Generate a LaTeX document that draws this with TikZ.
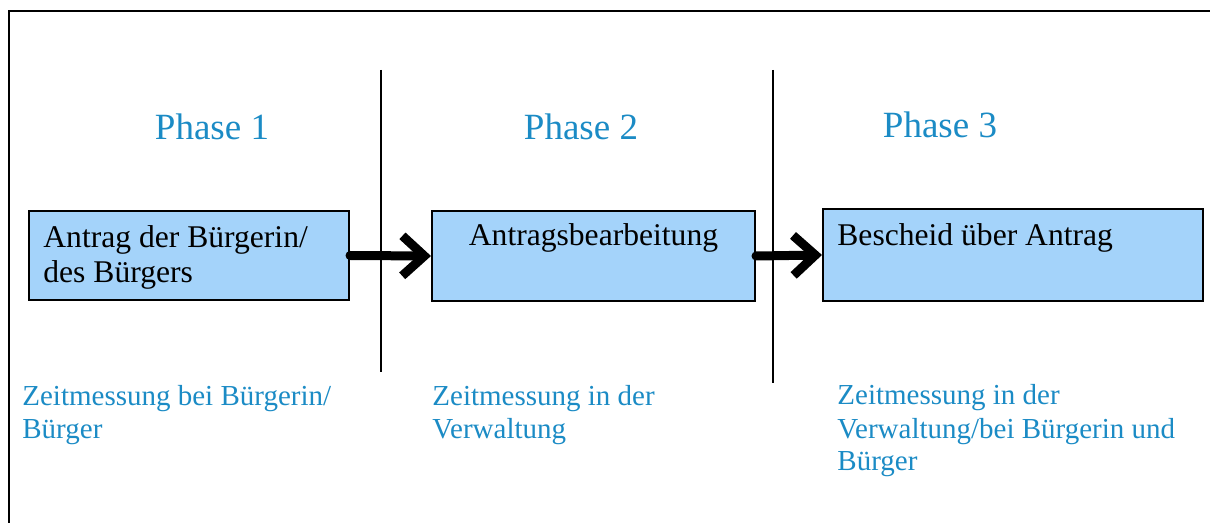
\documentclass[tikz,border=0pt]{standalone}
\usepackage{fontspec}
\setmainfont{Liberation Serif}
\usetikzlibrary{positioning, arrows.meta, calc}
\definecolor{phasec}{HTML}{1B8BC5}
\definecolor{boxc}{HTML}{A4D3FA}

\begin{document}
\begin{tikzpicture}[
  x=0.5pt, y=-0.5pt,
  box/.style={draw=black, line width=1pt, fill=boxc, anchor=north west, inner sep=0pt},
  boxtext/.style={font=\fontsize{15.8}{17.5}\selectfont, align=left, inner sep=0pt, anchor=base west},
  phase/.style={font=\fontsize{18.5}{22}\selectfont, text=phasec, inner sep=0pt, anchor=base},
  note/.style={font=\fontsize{14.5}{16.5}\selectfont, text=phasec, align=left, inner sep=0pt, anchor=base west},
  sep/.style={line width=1pt},
  flow/.style={-{Straight Barb[length=11pt, width=20pt]}, line width=4.5pt, line cap=round},
]
\useasboundingbox (0,0) rectangle (1210,523);

% ---------------- frame (runs off to the right and bottom) ----------------
\draw[line width=1pt] (1212,11) -- (9,11) -- (9,525);

% ---------------- phase separators ----------------
\draw[sep] (381,70) -- (381,372);
\draw[sep] (773,70) -- (773,383);

% ---------------- phase titles ----------------
\node[phase] (ph1) at (212,140) {Phase 1};
\node[phase] (ph2) at (581,140) {Phase 2};
\node[phase] (ph3) at (940,138) {Phase 3};

% ---------------- process boxes ----------------
% multi-line texts sit on the baseline of their last line
\node[box, minimum width=160pt, minimum height=44.5pt] (antrag) at (28,210) {};
\node[boxtext] (antragtxt) at ($(antrag.north west)+(15,73)$) {Antrag der Bürgerin/\\des Bürgers};

\node[box, minimum width=161.5pt, minimum height=45pt] (bearb) at (431,210) {};
\node[boxtext, anchor=base] (bearbtxt) at ($(bearb.north)+(0,36)$) {Antragsbearbeitung};

\node[box, minimum width=190pt, minimum height=46pt] (bescheid) at (822,208) {};
\node[boxtext] (bescheidtxt) at ($(bescheid.north west)+(15,38)$) {Bescheid über Antrag};

\draw[flow] (antrag.east) -- (bearb.west);
\draw[flow] (bearb.east) -- (bescheid.west);

% ---------------- time measurement notes ----------------
\node[note] (zeit1) at (22,438) {Zeitmessung bei Bürgerin/\\Bürger};
\node[note] (zeit2) at (432,438) {Zeitmessung in der\\Verwaltung};
\node[note] (zeit3) at (837,471) {Zeitmessung in der\\Verwaltung/bei Bürgerin und\\Bürger};

\end{tikzpicture}
\end{document}
